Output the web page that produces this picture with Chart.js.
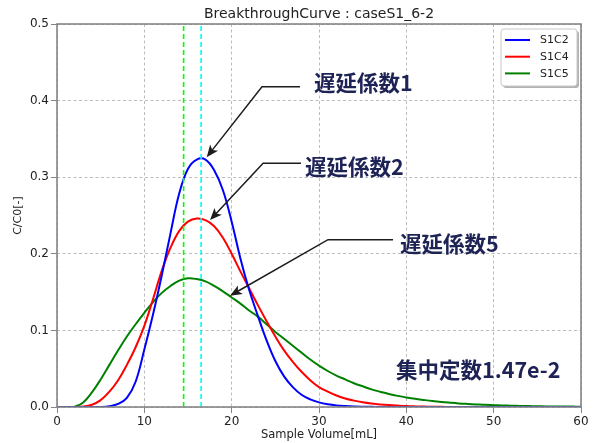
<!DOCTYPE html>
<html>
<head>
<meta charset="utf-8">
<script src="https://cdn.jsdelivr.net/npm/chart.js@4.4.1/dist/chart.umd.min.js"></script>
<style>
html,body{margin:0;padding:0;background:#fff;}
#wrap{width:593px;height:443px;position:relative;}
</style>
</head>
<body>
<div id="wrap"><canvas id="c" width="593" height="443"></canvas></div>
<script>
// ---- data ----
const volumes = [0,1,2,3,4,5,6,7,8,9,10,11,12,13,14,15,16,17,18,19,20,21,22,23,24,25,26,27,28,29,30,31,32,33,34,35,36,37,38,39,40,41,42,43,44,45,46,47,48,49,50,51,52,53,54,55,56,57,58,59,60];
const s1c2 = [0,0,0,0,0,0,0.001,0.004,0.012,0.033,0.075,0.121,0.172,0.227,0.279,0.311,0.323,0.323,0.309,0.283,0.242,0.194,0.153,0.119,0.087,0.060,0.040,0.026,0.016,0.010,0.006,0.0035,0.002,0.0012,0.0007,0.0004,0.0002,0.0001,0,0,0,0,0,0,0,0,0,0,0,0,0,0,0,0,0,0,0,0,0,0,0];
const s1c4 = [0,0,0,0.0005,0.003,0.009,0.020,0.035,0.055,0.078,0.106,0.141,0.178,0.208,0.230,0.242,0.246,0.244,0.236,0.221,0.200,0.177,0.155,0.133,0.112,0.092,0.074,0.059,0.046,0.035,0.026,0.020,0.015,0.011,0.0083,0.0062,0.0046,0.0034,0.0025,0.0018,0.0012,0.0008,0.0005,0.0003,0.0002,0.0001,0,0,0,0,0,0,0,0,0,0,0,0,0,0,0];
const s1c5 = [0,0,0.0003,0.006,0.019,0.036,0.055,0.074,0.092,0.108,0.123,0.137,0.149,0.158,0.165,0.168,0.167,0.164,0.158,0.151,0.143,0.135,0.126,0.118,0.108,0.098,0.089,0.080,0.071,0.062,0.054,0.047,0.041,0.036,0.031,0.027,0.023,0.020,0.017,0.0145,0.0125,0.0107,0.0092,0.0078,0.0066,0.0056,0.0047,0.0040,0.0034,0.0028,0.0024,0.0020,0.0017,0.0014,0.0012,0.0010,0.0008,0.0007,0.0006,0.0005,0.0004];
const seriesNames = ['S1C2','S1C4','S1C5'];
const markerVolumes = [14.5, 16.5];
const xTickLabels = ['0','10','20','30','40','50','60'];
const yTickLabels = ['0.0','0.1','0.2','0.3','0.4','0.5'];
const chartTitle = 'BreakthroughCurve : caseS1_6-2';
const xTitle = 'Sample Volume[mL]';
const yTitle = 'C/C0[-]';
const noteTexts = ['遅延係数1','遅延係数2','遅延係数5','集中定数1.47e-2'];

// ---- styling / annotation geometry (data units) ----
const seriesColors = ['#0000ff','#ff0000','#008000'];
const markerColors = ['#00ff00','#00ffff'];
const notePos = [[29.43,0.4237],[28.4,0.314],[39.28,0.2132],[38.82,0.0487]];
const arrowPaths = [
  [[27.83,0.418],[23.47,0.418],[17.14,0.3262]],
  [[27.94,0.3183],[23.6,0.3183],[17.52,0.244]],
  [[38.47,0.2184],[31.03,0.2184],[19.81,0.1453]]
];

const toXY = (ys) => ys.map((y,i)=>({x:volumes[i], y:y}));
const datasets = [];
[s1c2,s1c4,s1c5].forEach((ys,i)=>{
  datasets.push({label:seriesNames[i], data:toXY(ys), borderColor:seriesColors[i], borderWidth:2,
    pointRadius:0, fill:false, tension:0.4, order:2});
});
markerVolumes.forEach((v,i)=>{
  datasets.push({label:'_m'+i, data:[{x:v,y:0},{x:v,y:0.5}], borderColor:markerColors[i], borderWidth:1.6,
    borderDash:[5,3], pointRadius:0, fill:false, order:1});
});

function drawArrowHead(ctx, from, tip){
  const dx = tip.x-from.x, dy = tip.y-from.y, len=Math.hypot(dx,dy);
  const ux=dx/len, uy=dy/len, nx=-uy, ny=ux;
  const L=12, W=5, notch=3;
  ctx.beginPath();
  ctx.moveTo(tip.x, tip.y);
  ctx.lineTo(tip.x-ux*L+nx*W, tip.y-uy*L+ny*W);
  ctx.lineTo(tip.x-ux*(L-notch), tip.y-uy*(L-notch));
  ctx.lineTo(tip.x-ux*L-nx*W, tip.y-uy*L-ny*W);
  ctx.closePath();
  ctx.fill();
}

const overlay = {
  id:'overlay',
  afterDraw(chart){
    const ctx = chart.ctx, a = chart.chartArea, xs = chart.scales.x, ys = chart.scales.y;
    const P = (p)=>({x:xs.getPixelForValue(p[0]), y:ys.getPixelForValue(p[1])});
    ctx.save();
    // frame
    ctx.strokeStyle='#858585'; ctx.lineWidth=1.6; ctx.setLineDash([]);
    ctx.strokeRect(a.left, a.top, a.right-a.left, a.bottom-a.top);
    // title
    ctx.fillStyle='#222'; ctx.font='14px "DejaVu Sans"'; ctx.textAlign='center'; ctx.textBaseline='alphabetic';
    ctx.fillText(chartTitle, (a.left+a.right)/2, 18);
    // legend
    const bw=76, bh=57, bx=a.right-4-bw, by=a.top+5;
    ctx.fillStyle='rgba(0,0,0,0.3)';
    ctx.beginPath(); ctx.roundRect(bx+2, by+2, bw, bh, 3); ctx.fill();
    ctx.fillStyle='#fff'; ctx.strokeStyle='#c8c8c8'; ctx.lineWidth=1;
    ctx.beginPath(); ctx.roundRect(bx, by, bw, bh, 3); ctx.fill(); ctx.stroke();
    ctx.font='11px "DejaVu Sans"'; ctx.textAlign='left'; ctx.textBaseline='middle';
    for(let i=0;i<3;i++){
      const ds = chart.data.datasets[i];
      const yy = by+11+i*16.7;
      ctx.strokeStyle=ds.borderColor; ctx.lineWidth=2;
      ctx.beginPath(); ctx.moveTo(bx+4, yy); ctx.lineTo(bx+29, yy); ctx.stroke();
      ctx.fillStyle='#222'; ctx.fillText(ds.label, bx+39, yy+0.5);
    }
    // arrows
    ctx.strokeStyle='#1c1c1c'; ctx.fillStyle='#1c1c1c'; ctx.lineWidth=1.5;
    arrowPaths.forEach(path=>{
      const pts = path.map(P);
      const last = pts[pts.length-1], prev = pts[pts.length-2];
      const d = Math.hypot(last.x-prev.x,last.y-prev.y);
      const end = {x:last.x-(last.x-prev.x)/d*8, y:last.y-(last.y-prev.y)/d*8};
      ctx.beginPath(); ctx.moveTo(pts[0].x, pts[0].y);
      for(let i=1;i<pts.length-1;i++) ctx.lineTo(pts[i].x, pts[i].y);
      ctx.lineTo(end.x, end.y); ctx.stroke();
      drawArrowHead(ctx, prev, last);
    });
    // notes
    ctx.fillStyle='#1e2356'; ctx.font='bold 21.5px "Noto Sans CJK JP"'; ctx.textAlign='left'; ctx.textBaseline='middle';
    noteTexts.forEach((t,i)=>{ const p=P(notePos[i]); ctx.fillText(t, p.x, p.y); });
    ctx.restore();
  }
};

new Chart(document.getElementById('c'), {
  type:'line',
  data:{datasets:datasets},
  plugins:[overlay],
  options:{
    responsive:false, animation:false, maintainAspectRatio:false,
    layout:{padding:{left:0,right:12,top:24,bottom:0}},
    plugins:{legend:{display:false}, title:{display:false}, tooltip:{enabled:false}},
    scales:{
      x:{type:'linear', min:0, max:60,
        ticks:{stepSize:10, color:'#222', font:{family:'DejaVu Sans', size:12}, padding:2, maxRotation:0,
          callback:(v,i)=>xTickLabels[i]},
        grid:{color:'#bdbdbd', lineWidth:1, drawTicks:true, tickLength:6, tickColor:'#858585', tickBorderDash:[], tickWidth:1},
        border:{display:false, dash:[3,2.5]},
        title:{display:true, text:xTitle, color:'#222', font:{family:'DejaVu Sans', size:11.5}, padding:{top:0,bottom:1}},
        afterFit:(s)=>{s.height=36;}
      },
      y:{type:'linear', min:0, max:0.5,
        ticks:{stepSize:0.1, color:'#222', font:{family:'DejaVu Sans', size:12}, padding:2,
          callback:(v,i)=>yTickLabels[i]},
        grid:{color:'#bdbdbd', lineWidth:1, drawTicks:true, tickLength:6, tickColor:'#858585', tickBorderDash:[], tickWidth:1},
        border:{display:false, dash:[3,2.5]},
        title:{display:true, text:yTitle, color:'#222', font:{family:'DejaVu Sans', size:11}, padding:{top:12,bottom:0}},
        afterFit:(s)=>{s.width=57;}
      }
    }
  }
});
</script>
</body>
</html>
